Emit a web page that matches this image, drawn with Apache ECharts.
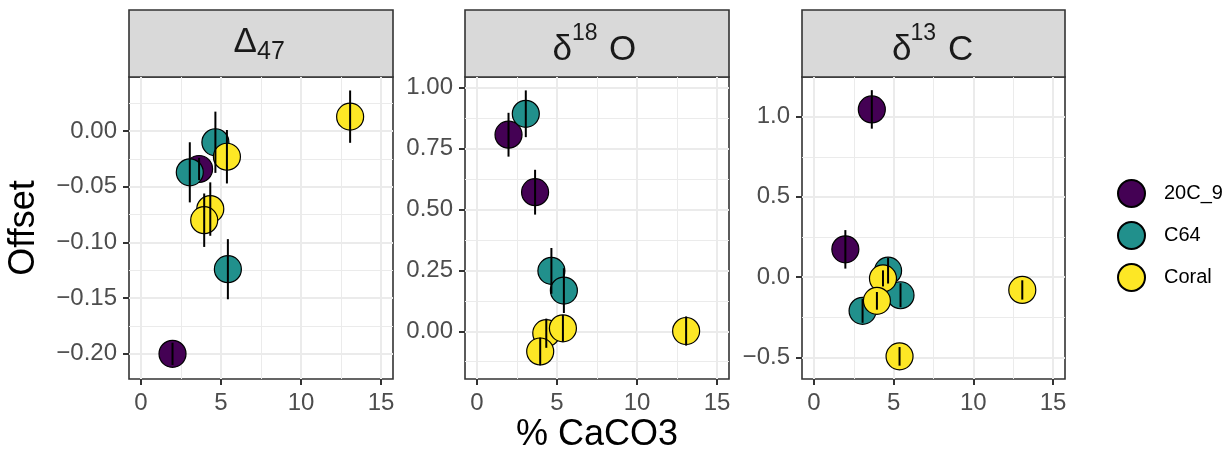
<!DOCTYPE html>
<html><head><meta charset="utf-8">
<script src="https://cdn.jsdelivr.net/npm/echarts@6/dist/echarts.min.js"></script>
<style>html,body{margin:0;padding:0;background:#fff}#c{width:1224px;height:450px}</style>
</head><body><div id="c"></div>
<script>
// ---- data ----
const groups = ['20C_9', 'C64', 'Coral'];
const colors = ['#440154', '#21908C', '#FDE725'];

const caco3_20C9 = [1.97, 3.63];
const caco3_C64 = [3.05, 4.65, 5.43];
const caco3_Coral = [4.33, 3.95, 5.37, 13.07];

const d47_20C9 = [-0.200, -0.034];
const d47_20C9_err = [0.010, 0.010];
const d47_C64 = [-0.037, -0.010, -0.124];
const d47_C64_err = [0.027, 0.0275, 0.027];
const d47_Coral = [-0.070, -0.080, -0.023, 0.013];
const d47_Coral_err = [0.024, 0.024, 0.024, 0.0235];

const d18O_20C9 = [0.807, 0.571];
const d18O_20C9_err = [0.090, 0.092];
const d18O_C64 = [0.893, 0.248, 0.167];
const d18O_C64_err = [0.096, 0.094, 0.092];
const d18O_Coral = [-0.008, -0.083, 0.012, 0.001];
const d18O_Coral_err = [0.060, 0.057, 0.055, 0.060];

const d13C_20C9 = [0.173, 1.045];
const d13C_20C9_err = [0.120, 0.120];
const d13C_C64 = [-0.210, 0.040, -0.113];
const d13C_C64_err = [0.075, 0.080, 0.075];
const d13C_Coral = [-0.008, -0.148, -0.494, -0.080];
const d13C_Coral_err = [0.050, 0.055, 0.058, 0.060];

const xTicks = [0, 5, 10, 15];
const xMinorTicks = [2.5, 7.5, 12.5];
const d47Ticks = [-0.20, -0.15, -0.10, -0.05, 0.00];
const d47MinorTicks = [-0.175, -0.125, -0.075, -0.025, 0.025];
const d18OTicks = [0.00, 0.25, 0.50, 0.75, 1.00];
const d18OMinorTicks = [-0.125, 0.125, 0.375, 0.625, 0.875];
const d13CTicks = [-0.5, 0.0, 0.5, 1.0];
const d13CMinorTicks = [-0.25, 0.25, 0.75];

// ---- layout ----
const FF = '"Liberation Sans", Arial, Helvetica, sans-serif';
const grids = [
  {left: 129, top: 77, width: 264, height: 302},
  {left: 465, top: 77, width: 264, height: 302},
  {left: 802, top: 77, width: 263, height: 302}
];
const xRange = [-0.75, 15.75];
const yRanges = [[-0.2226, 0.0486], [-0.196, 1.044], [-0.635, 1.247]];
const yMajor = [d47Ticks, d18OTicks, d13CTicks];
const yMinor = [d47MinorTicks, d18OMinorTicks, d13CMinorTicks];
const yDecimals = [2, 2, 1];

const panels = [
  {x: [caco3_20C9, caco3_C64, caco3_Coral],
   y: [d47_20C9, d47_C64, d47_Coral],
   e: [d47_20C9_err, d47_C64_err, d47_Coral_err]},
  {x: [caco3_20C9, caco3_C64, caco3_Coral],
   y: [d18O_20C9, d18O_C64, d18O_Coral],
   e: [d18O_20C9_err, d18O_C64_err, d18O_Coral_err]},
  {x: [caco3_20C9, caco3_C64, caco3_Coral],
   y: [d13C_20C9, d13C_C64, d13C_Coral],
   e: [d13C_20C9_err, d13C_C64_err, d13C_Coral_err]}
];

const fmtMinus = s => s.replace('-', '\u2212');
const tickStyle = {show: true, length: 6, inside: false, lineStyle: {color: '#333333', width: 2}};
const labelStyle = {fontSize: 24, color: '#4D4D4D', fontFamily: FF};

const xAxes = [], yAxes = [];
for (let p = 0; p < 3; p++) {
  xAxes.push({
    type: 'value', gridIndex: p, min: xRange[0], max: xRange[1], position: 'bottom',
    axisLine: {show: false, onZero: false},
    axisTick: Object.assign({customValues: xTicks}, tickStyle),
    axisLabel: Object.assign({customValues: xTicks, margin: 12, formatter: v => String(v)}, labelStyle),
    splitLine: {show: true, lineStyle: {color: '#EBEBEB', width: 2}}
  });
}
for (let p = 0; p < 3; p++) {
  xAxes.push({
    type: 'value', gridIndex: p, min: xRange[0], max: xRange[1], position: 'top',
    axisLine: {show: false, onZero: false}, axisTick: {show: false, customValues: xMinorTicks},
    axisLabel: {show: false, customValues: xMinorTicks},
    splitLine: {show: true, lineStyle: {color: '#EBEBEB', width: 1}}
  });
}
for (let p = 0; p < 3; p++) {
  const dec = yDecimals[p];
  yAxes.push({
    type: 'value', gridIndex: p, min: yRanges[p][0], max: yRanges[p][1], position: 'left',
    axisLine: {show: false, onZero: false},
    axisTick: Object.assign({customValues: yMajor[p]}, tickStyle),
    axisLabel: Object.assign({customValues: yMajor[p], margin: 12, formatter: v => fmtMinus(Number(v).toFixed(dec))}, labelStyle),
    splitLine: {show: true, lineStyle: {color: '#EBEBEB', width: 2}}
  });
}
for (let p = 0; p < 3; p++) {
  yAxes.push({
    type: 'value', gridIndex: p, min: yRanges[p][0], max: yRanges[p][1], position: 'right',
    axisLine: {show: false, onZero: false}, axisTick: {show: false, customValues: yMinor[p]},
    axisLabel: {show: false, customValues: yMinor[p]},
    splitLine: {show: true, lineStyle: {color: '#EBEBEB', width: 1}}
  });
}

const series = [];
for (let p = 0; p < 3; p++) {
  for (let g = 0; g < 3; g++) {
    const xs = panels[p].x[g], ys = panels[p].y[g];
    series.push({
      type: 'scatter', name: groups[g], xAxisIndex: p, yAxisIndex: p,
      data: xs.map((v, i) => [v, ys[i]]),
      symbol: 'circle', symbolSize: 27, z: 2,
      itemStyle: {color: colors[g], borderColor: '#000', borderWidth: 1.2, opacity: 1},
      emphasis: {disabled: true}, animation: false
    });
  }
}
for (let p = 0; p < 3; p++) {
  for (let g = 0; g < 3; g++) {
    const xs = panels[p].x[g], ys = panels[p].y[g], es = panels[p].e[g];
    series.push({
      type: 'custom', name: 'errorbar', xAxisIndex: p, yAxisIndex: p, z: 3,
      data: xs.map((v, i) => [v, ys[i], es[i]]),
      encode: {x: 0, y: 1},
      renderItem: (params, api) => {
        const x = api.value(0), y = api.value(1), e = api.value(2);
        const a = api.coord([x, y - e]), b = api.coord([x, y + e]);
        return {type: 'line', shape: {x1: a[0], y1: a[1], x2: b[0], y2: b[1]},
                style: {stroke: '#000', lineWidth: 2}};
      },
      silent: true, animation: false
    });
  }
}

// strips
const graphic = [];
grids.forEach(gr => {
  graphic.push({type: 'rect', shape: {x: gr.left, y: 10, width: gr.width, height: 67},
    style: {fill: '#D9D9D9', stroke: '#333333', lineWidth: 1.6}, silent: true});
});
function txt(s, x, y, size, align, rot) {
  return {type: 'text', x: x, y: y, rotation: rot || 0, silent: true,
    style: {text: s, font: size + 'px ' + FF, fill: '#1A1A1A', align: align, verticalAlign: 'middle'}};
}
graphic.push(txt('\u0394', 257, 42.5, 35, 'right'));
graphic.push(txt('47', 257, 51.9, 25, 'left'));
graphic.push(txt('\u03b4', 572, 50.3, 35, 'right'));
graphic.push(txt('18', 572, 33.8, 23, 'left'));
graphic.push(txt('O', 609, 50.3, 35, 'left'));
graphic.push(txt('\u03b4', 911.5, 50.3, 35, 'right'));
graphic.push(txt('13', 910.5, 33.8, 23, 'left'));
graphic.push(txt('C', 948, 50.3, 35, 'left'));
// axis titles
const tOff = txt('Offset', 24.5, 228, 36, 'center', Math.PI / 2); tOff.style.fill = '#000';
const tX = txt('% CaCO3', 597, 435, 36, 'center'); tX.style.fill = '#000';
graphic.push(tOff, tX);

const chart = echarts.init(document.getElementById('c'));
chart.setOption({
  animation: false,
  backgroundColor: '#fff',
  grid: grids.map(g => Object.assign({show: true, borderColor: '#333333', borderWidth: 1.6, backgroundColor: '#fff', containLabel: false}, g)),
  xAxis: xAxes,
  yAxis: yAxes,
  legend: {
    data: groups, orient: 'vertical', left: 1112, top: 174,
    itemWidth: 27, itemHeight: 27, itemGap: 13, icon: 'circle', selectedMode: false,
    textStyle: {fontSize: 20, color: '#000', fontFamily: FF, padding: [0, 0, 0, 14]}
  },
  series: series,
  graphic: graphic
});
</script></body></html>
